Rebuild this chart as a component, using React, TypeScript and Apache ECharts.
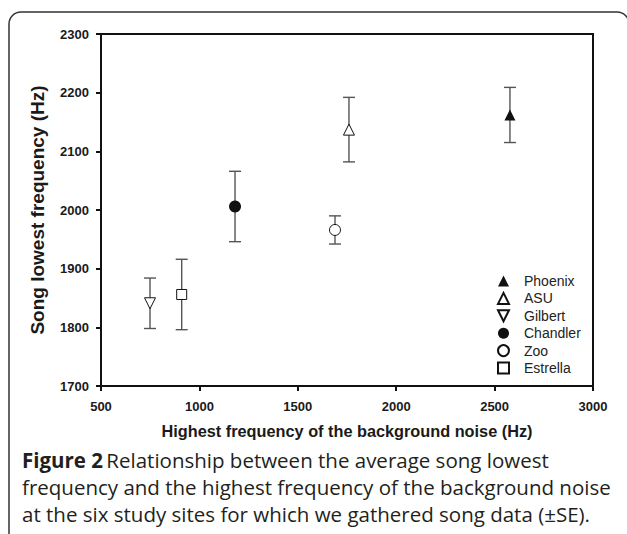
import React, { useEffect, useRef } from "react";
import * as echarts from "echarts";

const sites = ["Phoenix", "ASU", "Gilbert", "Chandler", "Zoo", "Estrella"];
const noiseHz = [2578, 1760, 749, 1181, 1689, 910];
const songHz = [2162, 2137, 1841, 2006, 1966, 1856];
const seHz = [47, 55, 43, 60, 24, 60];
const symbols = [
  "triangle",
  "triangle",
  "path://M0,0L10,0L5,10Z",
  "circle",
  "circle",
  "rect",
];
const filled = [true, false, false, true, false, false];
const xTicks = { min: 500, max: 3000, interval: 500 };
const yTicks = { min: 1700, max: 2300, interval: 100 };
const captionLines = [
  "Relationship between the average song lowest",
  "frequency and the highest frequency of the background noise",
  "at the six study sites for which we gathered song data (±SE).",
];

export default function App() {
  const ref = useRef<HTMLDivElement>(null);
  useEffect(() => {
    if (!ref.current) return;
    const chart = echarts.init(ref.current, null, { renderer: "svg" });
    const errData = sites.map((_, i) => [noiseHz[i], songHz[i] - seHz[i], songHz[i] + seHz[i]]);
    const scatterSeries = sites.map((s, i) => ({
      name: s,
      type: "scatter",
      z: 5,
      symbol: symbols[i],
      symbolSize: i === 3 ? 12 : i === 5 ? 10 : 11,
      data: [[noiseHz[i], songHz[i]]],
      itemStyle: {
        color: filled[i] ? "#111" : "#fff",
        borderColor: "#111",
        borderWidth: filled[i] ? 0 : 1,
        opacity: 1,
      },
      emphasis: { disabled: true },
    }));
    const tickFont = { fontFamily: "Liberation Sans", fontWeight: "bold", fontSize: 13, color: "#1a1a1a" };
    const option: any = {
      animation: false,
      backgroundColor: "#fff",
      grid: {
        left: 101,
        right: 34,
        top: 34,
        bottom: 148,
        show: true,
        borderColor: "#111",
        borderWidth: 2,
        backgroundColor: "transparent",
      },
      xAxis: {
        type: "value",
        min: xTicks.min,
        max: xTicks.max,
        interval: xTicks.interval,
        name: "Highest frequency of the background noise (Hz)",
        nameLocation: "middle",
        nameGap: 37,
        nameTextStyle: { fontFamily: "Liberation Sans", fontWeight: "bold", fontSize: 16.3, color: "#1a1a1a" },
        axisLine: { show: true, lineStyle: { color: "#111", width: 2 } },
        axisTick: { show: true, length: 5, lineStyle: { color: "#111", width: 2 } },
        axisLabel: { margin: 14, ...tickFont, formatter: (v: number) => String(v) },
        splitLine: { show: false },
      },
      yAxis: {
        type: "value",
        min: yTicks.min,
        max: yTicks.max,
        interval: yTicks.interval,
        name: "Song lowest frequency (Hz)",
        nameLocation: "middle",
        nameGap: 54,
        nameTextStyle: { fontFamily: "Liberation Sans", fontWeight: "bold", fontSize: 19, color: "#1a1a1a" },
        axisLine: { show: true, lineStyle: { color: "#111", width: 2 } },
        axisTick: { show: true, length: 5, lineStyle: { color: "#111", width: 2 } },
        axisLabel: { margin: 12, ...tickFont, formatter: (v: number) => String(v) },
        splitLine: { show: false },
      },
      legend: {
        orient: "vertical",
        left: 497,
        top: 274,
        padding: 0,
        itemWidth: 11,
        itemHeight: 11,
        itemGap: 3.4,
        data: sites,
        textStyle: { fontFamily: "Liberation Sans", fontSize: 14, color: "#222", padding: [0, 0, 0, 10] },
        selectedMode: false,
      },
      series: [
        {
          type: "custom",
          name: "err",
          z: 2,
          data: errData,
          renderItem: (params: any, api: any) => {
            const x = api.value(0);
            const lo = api.coord([x, api.value(1)]);
            const hi = api.coord([x, api.value(2)]);
            const w = 6;
            const style = { stroke: "#555", lineWidth: 1.4 };
            return {
              type: "group",
              children: [
                { type: "line", shape: { x1: lo[0], y1: lo[1], x2: hi[0], y2: hi[1] }, style },
                { type: "line", shape: { x1: lo[0] - w, y1: lo[1], x2: lo[0] + w, y2: lo[1] }, style },
                { type: "line", shape: { x1: hi[0] - w, y1: hi[1], x2: hi[0] + w, y2: hi[1] }, style },
              ],
            };
          },
        },
        ...scatterSeries,
      ],
      graphic: [
        {
          type: "rect",
          shape: { x: 9, y: 12, width: 620, height: 600, r: 12 },
          style: { fill: "none", stroke: "#333", lineWidth: 1.5 },
          silent: true,
        },
        {
          type: "text",
          left: 22,
          top: 449,
          style: {
            text:
              "{b|Figure 2} {r|" + captionLines[0] + "}\n{r|" + captionLines[1] + "}\n{r|" + captionLines[2] + "}",
            rich: {
              b: { fontFamily: "Open Sans", fontWeight: "bold", fontSize: 20.5, fill: "#231f20", lineHeight: 27 },
              r: { fontFamily: "Open Sans", fontSize: 20.5, fill: "#231f20", lineHeight: 27 },
            },
          },
        },
      ],
    };
    chart.setOption(option);
    return () => chart.dispose();
  }, []);
  return (
    <div
      ref={ref}
      style={{ position: "fixed", left: 0, top: 0, width: 627, height: 534 }}
    />
  );
}
